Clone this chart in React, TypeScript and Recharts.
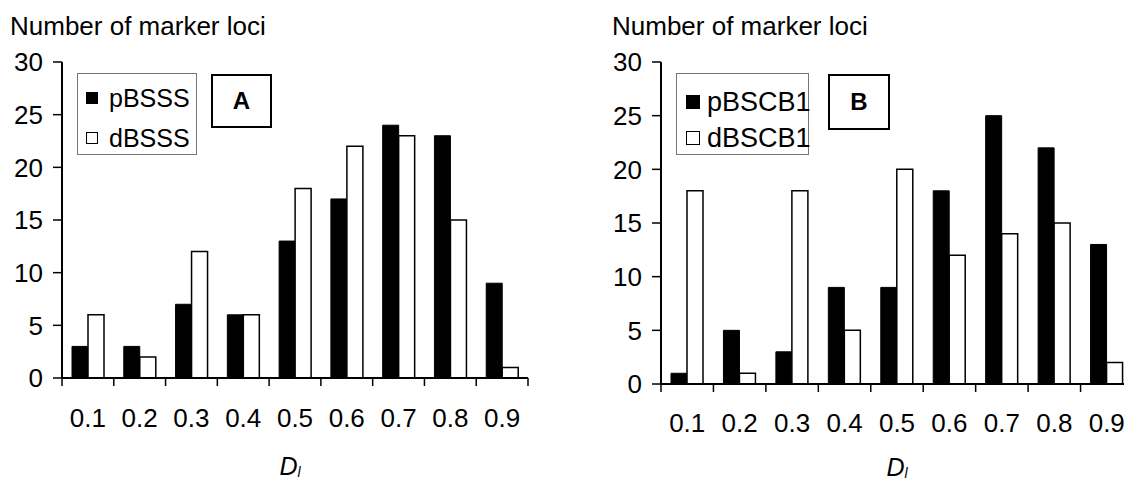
import React from 'react';
import { BarChart, Bar, XAxis, YAxis, Legend } from 'recharts';

const categories = ['0.1', '0.2', '0.3', '0.4', '0.5', '0.6', '0.7', '0.8', '0.9'];
const pBSSS = [3, 3, 7, 6, 13, 17, 24, 23, 9];
const dBSSS = [6, 2, 12, 6, 18, 22, 23, 15, 1];
const pBSCB1 = [1, 5, 3, 9, 9, 18, 25, 22, 13];
const dBSCB1 = [18, 1, 18, 5, 20, 12, 14, 15, 2];
const yTicks = [0, 5, 10, 15, 20, 25, 30];
const yTitle = 'Number of marker loci';
const seriesOrder = ['p', 'd'];

const FONT = 'Arial, "Liberation Sans", Helvetica, sans-serif';

const dataA = categories.map((c, i) => ({ cat: c, p: pBSSS[i], d: dBSSS[i] }));
const dataB = categories.map((c, i) => ({ cat: c, p: pBSCB1[i], d: dBSCB1[i] }));

const makeXTick = (labelDy: number, fallbackHalf: number) => (props: any) => {
  const { x, y, payload, index, visibleTicksCount } = props;
  const half = payload && typeof payload.offset === 'number' && payload.offset > 0 ? payload.offset : fallbackHalf;
  return (
    <g>
      <line x1={x - half} x2={x - half} y1={y} y2={y + 8} stroke="#000" strokeWidth={1.5} />
      {index === visibleTicksCount - 1 && (
        <line x1={x + half} x2={x + half} y1={y} y2={y + 8} stroke="#000" strokeWidth={1.5} />
      )}
      <text x={x} y={y + labelDy} textAnchor="middle" dominantBaseline="central" fontSize={26} fontFamily={FONT} fill="#000">
        {payload.value}
      </text>
    </g>
  );
};

const makeLegend = (opts: { w: number; h: number; sq: number; sqLeft: number; textLeft: number; rows: number[]; fontSize: number }) => (props: any) => {
  const items = [...(props.payload || [])].sort(
    (a: any, b: any) => seriesOrder.indexOf(String(a.dataKey)) - seriesOrder.indexOf(String(b.dataKey))
  );
  return (
    <div style={{ position: 'relative', width: opts.w, height: opts.h, border: '1px solid #777', boxSizing: 'border-box', background: '#fff', fontFamily: FONT }}>
      {items.map((it: any, i: number) => (
        <div key={i} style={{ position: 'absolute', left: 0, top: opts.rows[i] - 16, height: 32, width: opts.w + 20 }}>
          <div style={{ position: 'absolute', left: opts.sqLeft, top: 16 - opts.sq / 2, width: opts.sq, height: opts.sq, background: it.color, border: '1px solid #000', boxSizing: 'border-box' }} />
          <div style={{ position: 'absolute', left: opts.textLeft, top: 0, height: 32, lineHeight: '32px', fontSize: opts.fontSize, color: '#000', whiteSpace: 'nowrap' }}>{it.value}</div>
        </div>
      ))}
    </div>
  );
};

const axisStroke = { stroke: '#000', strokeWidth: 2 };

function Panel(props: {
  data: any[]; width: number; yWidth: number; marginRight: number; xHeight: number;
  pName: string; dName: string; labelDy: number; legend: any; legendPos: { left: number; top: number };
}) {
  const { data, width, yWidth, marginRight, xHeight, pName, dName, labelDy, legend, legendPos } = props;
  const plotW = width - yWidth - marginRight;
  return (
    <BarChart width={width} height={484} data={data} margin={{ top: 62, right: marginRight, bottom: 0, left: 0 }} barGap={0}>
      <XAxis dataKey="cat" height={xHeight} tickSize={0} tickMargin={0} tickLine={false} axisLine={axisStroke} interval={0} tick={makeXTick(labelDy, plotW / categories.length / 2)} />
      <XAxis xAxisId="top" dataKey="cat" orientation="top" height={0} tick={false} tickLine={false} axisLine={axisStroke} />
      <YAxis domain={[0, 30]} ticks={yTicks} interval={0} width={yWidth} tickSize={9} tickMargin={10}
        tick={{ fontSize: 26, fill: '#000', fontFamily: FONT }} axisLine={axisStroke} tickLine={{ stroke: '#000', strokeWidth: 1.5 }} />
      <YAxis yAxisId="right" orientation="right" domain={[0, 30]} width={0} tick={false} tickLine={false} axisLine={axisStroke} />
      <Legend layout="vertical" align="center" verticalAlign="middle" content={legend}
        wrapperStyle={{ position: 'absolute', left: legendPos.left, top: legendPos.top, width: 'auto', height: 'auto' }} />
      <Bar dataKey="p" name={pName} fill="#000" stroke="#000" strokeWidth={1} barSize={16} isAnimationActive={false} />
      <Bar dataKey="d" name={dName} fill="#fff" stroke="#000" strokeWidth={1.5} barSize={16} isAnimationActive={false} />
    </BarChart>
  );
}

const titleStyle: React.CSSProperties = { position: 'absolute', fontFamily: FONT, fontSize: 26, lineHeight: 1, whiteSpace: 'nowrap', color: '#000' };
const dStyle: React.CSSProperties = { position: 'absolute', fontFamily: FONT, fontSize: 25, lineHeight: 1, fontStyle: 'italic', whiteSpace: 'nowrap', color: '#000', transform: 'translateX(-50%)' };
const subStyle: React.CSSProperties = { fontSize: 14, lineHeight: 0, verticalAlign: 'baseline', position: 'relative', top: 2 };
const letterStyle: React.CSSProperties = { position: 'absolute', border: '2px solid #000', boxSizing: 'border-box', fontFamily: FONT, fontWeight: 'bold', fontSize: 24, display: 'flex', alignItems: 'center', justifyContent: 'center', background: '#fff', color: '#000' };

export default function App() {
  const legendA = makeLegend({ w: 120, h: 82, sq: 12, sqLeft: 8, textLeft: 31, rows: [24, 64], fontSize: 25 });
  const legendB = makeLegend({ w: 133, h: 82, sq: 14, sqLeft: 9, textLeft: 30, rows: [28, 64], fontSize: 27 });
  return (
    <div style={{ position: 'absolute', left: 0, top: 0, width: 1124, height: 484, overflow: 'hidden', background: '#fff' }}>
      <div style={{ position: 'absolute', left: 0, top: 0, width: 560, height: 484 }}>
        <Panel data={dataA} width={560} yWidth={62} marginRight={32} xHeight={106} pName="pBSSS" dName="dBSSS"
          labelDy={40} legend={legendA} legendPos={{ left: 77, top: 73 }} />
      </div>
      <div style={{ position: 'absolute', left: 560, top: 0, width: 600, height: 484 }}>
        <Panel data={dataB} width={600} yWidth={101} marginRight={27} xHeight={100} pName="pBSCB1" dName="dBSCB1"
          labelDy={39} legend={legendB} legendPos={{ left: 116, top: 73 }} />
      </div>
      <div style={{ ...titleStyle, left: 10, top: 13 }}>{yTitle}</div>
      <div style={{ ...titleStyle, left: 612, top: 13 }}>{yTitle}</div>
      <div style={{ ...letterStyle, left: 211, top: 74, width: 61, height: 54 }}>A</div>
      <div style={{ ...letterStyle, left: 828, top: 74, width: 62, height: 56 }}>B</div>
      <div style={{ ...dStyle, left: 290, top: 454 }}>D<sub style={subStyle}>l</sub></div>
      <div style={{ ...dStyle, left: 897, top: 455 }}>D<sub style={subStyle}>l</sub></div>
    </div>
  );
}
